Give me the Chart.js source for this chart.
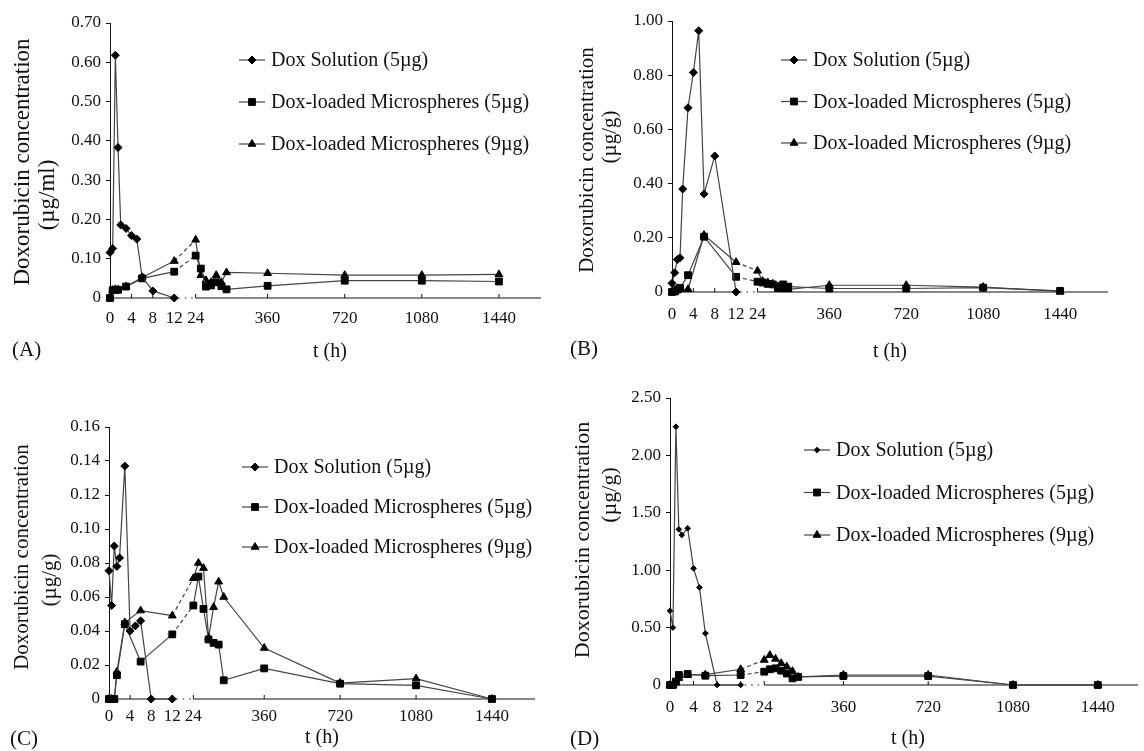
<!DOCTYPE html>
<html>
<head>
<meta charset="utf-8">
<script src="https://cdn.jsdelivr.net/npm/chart.js@4/dist/chart.umd.min.js"></script>
<style>
    html, body { margin: 0; padding: 0; background: #fff; }
    #page { position: relative; width: 1144px; height: 751px; overflow: hidden; background: #fff; }
    canvas { position: absolute; }
</style>
</head>
<body>
<div id="page">
    <canvas id="panelA" width="560" height="375" style="left:0;top:0"></canvas>
    <canvas id="panelB" width="584" height="375" style="left:560px;top:0"></canvas>
    <canvas id="panelC" width="560" height="376" style="left:0;top:375px"></canvas>
    <canvas id="panelD" width="584" height="376" style="left:560px;top:375px"></canvas>
</div>
<script>
// sampling times (hours)
const solHours = [0, 0.5, 1, 1.5, 2, 3, 4, 5, 6, 8, 12];
const msHours = [0, 0.5, 1, 1.5, 3, 6, 12, 24, 48, 72, 96, 120, 144, 168, 360, 720, 1080, 1440];
const tickHours = [0, 4, 8, 12, 24, 360, 720, 1080, 1440];
const seriesLabels = ["Dox Solution (5µg)", "Dox-loaded Microspheres (5µg)", "Dox-loaded Microspheres (9µg)"];

// (A) plasma, µg/ml
const solA = [0.116, 0.126, 0.618, 0.383, 0.186, 0.177, 0.159, 0.150, 0.054, 0.018, 0];
const ms5A = [0, 0.020, 0.020, 0.021, 0.029, 0.050, 0.067, 0.108, 0.075, 0.029, 0.032, 0.040, 0.030, 0.022, 0.031, 0.044, 0.044, 0.042];
const ms9A = [0, 0.020, 0.022, 0.021, 0.029, 0.052, 0.094, 0.148, 0.058, 0.045, 0.040, 0.058, 0.040, 0.065, 0.063, 0.058, 0.058, 0.060];

// (B) µg/g
const solB = [0.032, 0.071, 0.120, 0.126, 0.380, 0.680, 0.810, 0.964, 0.362, 0.502, 0];
const ms5B = [0, 0.002, 0.010, 0.015, 0.062, 0.204, 0.056, 0.038, 0.035, 0.030, 0.028, 0.015, 0.028, 0.020, 0.013, 0.013, 0.016, 0.004];
const ms9B = [0, 0, 0.005, 0.010, 0.010, 0.210, 0.110, 0.078, 0.040, 0.035, 0.030, 0.020, 0.010, 0.010, 0.025, 0.025, 0.018, 0.002];

// (C) µg/g
const solC = [0.0755, 0.055, 0.090, 0.078, 0.083, 0.137, 0.040, 0.043, 0.046, 0, 0];
const ms5C = [0, 0, 0, 0.014, 0.044, 0.022, 0.038, 0.055, 0.072, 0.053, 0.035, 0.033, 0.032, 0.011, 0.018, 0.009, 0.008, 0];
const ms9C = [0, 0, 0, 0.016, 0.045, 0.052, 0.049, 0.071, 0.080, 0.077, 0.036, 0.054, 0.069, 0.060, 0.030, 0.0094, 0.012, 0];

// (D) µg/g
const solD = [0.647, 0.50, 2.25, 1.356, 1.307, 1.365, 1.016, 0.85, 0.45, 0, 0];
const ms5D = [0, 0, 0.030, 0.087, 0.096, 0.081, 0.087, 0.116, 0.137, 0.145, 0.125, 0.100, 0.058, 0.070, 0.078, 0.078, 0, 0];
const ms9D = [0, 0, 0.020, 0.060, 0.085, 0.090, 0.137, 0.218, 0.260, 0.227, 0.190, 0.160, 0.120, 0.070, 0.087, 0.087, 0, 0];

const FONT = '"Liberation Serif", "Times New Roman", serif';
const INK = "#111";
const LINE = "#444";

// broken time axis: 0-12 h linear, gap, then 24 h onwards compressed 25x
function toAxis(h) {
    return h <= 12 ? h : 16 + (h - 24) / 25;
}

const panels = [
    {
        id: "panelA", letter: "(A)", unit: "(µg/ml)",
        values: [solA, ms5A, ms9A], yMax: 0.7, yStep: 0.1, xMax: 80.5, solRadius: 4,
        area: { l: 110, t: 23, r: 541, b: 298 }, tickPad: 10, titleSize: 23,
        title1: [23, 162], title2: [48, 195], xTitle: [330, 352], letterPos: [12, 350], legend: [239, 60, 42],
    },
    {
        id: "panelB", letter: "(B)", unit: "(µg/g)",
        values: [solB, ms5B, ms9B], yMax: 1.0, yStep: 0.2, xMax: 81.6, solRadius: 4,
        area: { l: 112, t: 21, r: 548, b: 292 }, tickPad: 12, titleSize: 21,
        title1: [27, 160], title2: [50, 137], xTitle: [330, 352], letterPos: [10, 349], legend: [221, 60, 41.5],
    },
    {
        id: "panelC", letter: "(C)", unit: "(µg/g)",
        values: [solC, ms5C, ms9C], yMax: 0.16, yStep: 0.02, xMax: 80.8, solRadius: 4,
        area: { l: 109, t: 52, r: 535, b: 324 }, tickPad: 7, titleSize: 21,
        title1: [22, 182], title2: [50, 205], xTitle: [322, 363], letterPos: [10, 364], legend: [242, 92, 40],
    },
    {
        id: "panelD", letter: "(D)", unit: "(µg/g)",
        values: [solD, ms5D, ms9D], yMax: 2.5, yStep: 0.5, xMax: 79.5, solRadius: 2.8,
        area: { l: 110, t: 23, r: 584, b: 310 }, tickPad: 12, titleSize: 22,
        title1: [23, 165], title2: [50, 120], xTitle: [348, 364], letterPos: [10, 364], legend: [244, 75, 42.5],
    },
];

function makeDataset(label, hours, values, style, radius) {
    return {
        label: label,
        data: hours.map((h, i) => ({ x: toAxis(h), y: values[i] })),
        borderColor: LINE,
        borderWidth: 1.2,
        pointStyle: style,
        pointRadius: radius,
        pointBackgroundColor: "#000",
        pointBorderColor: "#000",
        pointBorderWidth: 1,
        tension: 0,
        clip: false,
        segment: {
            // lines crossing the axis break are dashed
            borderDash: (ctx) => (ctx.p0.parsed.x <= 12 && ctx.p1.parsed.x >= 16 ? [4, 3] : undefined),
        },
    };
}

function decorPlugin(spec) {
    return {
        id: "decor" + spec.id,
        beforeDatasetsDraw(chart) {
            const ctx = chart.ctx;
            const xs = chart.scales.x;
            const yPix = chart.scales.y.getPixelForValue(0);
            const p0 = xs.getPixelForValue(0);
            const p12 = xs.getPixelForValue(toAxis(12));
            const p24 = xs.getPixelForValue(toAxis(24));
            const pEnd = xs.getPixelForValue(xs.max);
            ctx.save();
            ctx.strokeStyle = INK;
            ctx.lineWidth = 1;
            ctx.beginPath();
            ctx.moveTo(p0, yPix);
            ctx.lineTo(p12, yPix);
            ctx.moveTo(p24, yPix);
            ctx.lineTo(pEnd, yPix);
            ctx.stroke();
            ctx.setLineDash([1.5, 5]);
            ctx.beginPath();
            ctx.moveTo(p12 + 4, yPix);
            ctx.lineTo(p24 - 2, yPix);
            ctx.stroke();
            ctx.setLineDash([]);
            // small tick marks pointing up into the plot
            ctx.beginPath();
            tickHours.forEach((h) => {
                const px = xs.getPixelForValue(toAxis(h));
                ctx.moveTo(px, yPix);
                ctx.lineTo(px, yPix - 4);
            });
            ctx.stroke();
            ctx.restore();
        },
        afterDraw(chart) {
            const ctx = chart.ctx;
            ctx.save();
            ctx.fillStyle = INK;
            ctx.textBaseline = "middle";

            // y axis title, two lines drawn separately
            ctx.font = spec.titleSize + "px " + FONT;
            ctx.textAlign = "center";
            [["Doxorubicin concentration", spec.title1], [spec.unit, spec.title2]].forEach(([text, pos]) => {
                ctx.save();
                ctx.translate(pos[0], pos[1]);
                ctx.rotate(-Math.PI / 2);
                ctx.fillText(text, 0, 0);
                ctx.restore();
            });

            // x axis title and panel letter
            ctx.font = "20px " + FONT;
            ctx.fillText("t (h)", spec.xTitle[0], spec.xTitle[1]);
            ctx.textAlign = "left";
            ctx.font = "21px " + FONT;
            ctx.fillText(spec.letter, spec.letterPos[0], spec.letterPos[1]);

            // legend: short line with marker, then label
            const [lx, ly, gap] = spec.legend;
            ctx.font = "20px " + FONT;
            chart.data.datasets.forEach((ds, i) => {
                const yRow = ly + i * gap;
                ctx.strokeStyle = LINE;
                ctx.lineWidth = 1.2;
                ctx.beginPath();
                ctx.moveTo(lx, yRow);
                ctx.lineTo(lx + 26, yRow);
                ctx.stroke();
                ctx.fillStyle = "#000";
                ctx.strokeStyle = "#000";
                ctx.lineWidth = 1;
                Chart.helpers.drawPoint(ctx, { pointStyle: ds.pointStyle, radius: ds.pointRadius, rotation: 0, borderWidth: 1 }, lx + 13, yRow);
                ctx.fillStyle = INK;
                ctx.fillText(ds.label, lx + 32, yRow + 1);
            });
            ctx.restore();
        },
    };
}

Chart.defaults.font.family = FONT;
Chart.defaults.color = INK;

panels.forEach((spec) => {
    const canvas = document.getElementById(spec.id);
    const a = spec.area;
    new Chart(canvas.getContext("2d"), {
        type: "line",
        data: {
            datasets: [
                makeDataset(seriesLabels[0], solHours, spec.values[0], "rectRot", spec.solRadius),
                makeDataset(seriesLabels[1], msHours, spec.values[1], "rect", 4.8),
                makeDataset(seriesLabels[2], msHours, spec.values[2], "triangle", 4.5),
            ],
        },
        options: {
            responsive: false,
            animation: false,
            events: [],
            layout: { padding: { left: 0, top: a.t, right: canvas.width - a.r, bottom: 0 } },
            plugins: {
                legend: { display: false },
                tooltip: { enabled: false },
            },
            scales: {
                x: {
                    type: "linear",
                    min: 0,
                    max: spec.xMax,
                    grid: { display: false, drawTicks: false },
                    border: { display: false },
                    afterBuildTicks: (scale) => {
                        scale.ticks = tickHours.map((h) => ({ value: toAxis(h) }));
                    },
                    afterFit: (scale) => {
                        scale.height = canvas.height - a.b;
                    },
                    ticks: {
                        autoSkip: false,
                        maxRotation: 0,
                        padding: spec.tickPad,
                        font: { size: 17 },
                        color: INK,
                        callback: (value, index) => String(tickHours[index]),
                    },
                },
                y: {
                    min: 0,
                    max: spec.yMax,
                    grid: { drawOnChartArea: false, drawTicks: true, tickLength: 4, color: INK },
                    border: { display: true, color: INK, width: 1 },
                    afterFit: (scale) => {
                        scale.width = a.l;
                    },
                    ticks: {
                        stepSize: spec.yStep,
                        padding: 5,
                        font: { size: 17 },
                        color: INK,
                        callback: (value) => (value === 0 ? "0" : value.toFixed(2)),
                    },
                },
            },
        },
        plugins: [decorPlugin(spec)],
    });
});
</script>
</body>
</html>
